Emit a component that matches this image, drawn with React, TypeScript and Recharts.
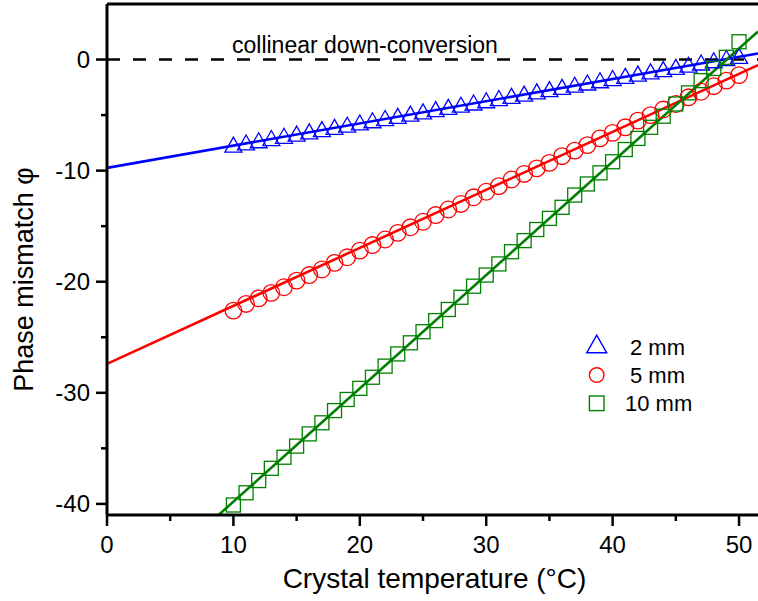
import React from 'react';
import { ComposedChart, XAxis, YAxis, Line, Scatter, ReferenceLine, Legend, Label } from 'recharts';

const temps = [10, 11, 12, 13, 14, 15, 16, 17, 18, 19, 20, 21, 22, 23, 24, 25, 26, 27, 28, 29, 30, 31, 32, 33, 34, 35, 36, 37, 38, 39, 40, 41, 42, 43, 44, 45, 46, 47, 48, 49, 50];
const phase2mm = [-7.8, -7.6, -7.4, -7.2, -7.0, -6.8, -6.6, -6.4, -6.2, -6.0, -5.8, -5.6, -5.4, -5.2, -5.0, -4.8, -4.6, -4.4, -4.2, -4.0, -3.8, -3.6, -3.4, -3.2, -3.0, -2.8, -2.6, -2.4, -2.2, -2.0, -1.8, -1.6, -1.4, -1.2, -1.0, -0.8, -0.6, -0.4, -0.2, 0.0, 0.2];
const phase5mm = [-22.6, -22.0, -21.5, -21.0, -20.5, -19.9, -19.4, -18.9, -18.3, -17.8, -17.2, -16.7, -16.2, -15.6, -15.1, -14.6, -14.0, -13.5, -13.0, -12.4, -11.9, -11.4, -10.8, -10.3, -9.8, -9.3, -8.7, -8.2, -7.7, -7.1, -6.6, -6.1, -5.5, -5.0, -4.5, -4.0, -3.4, -2.9, -2.4, -1.9, -1.4];
const phase10mm = [-40.1, -39.0, -37.9, -36.8, -35.8, -34.8, -33.7, -32.7, -31.6, -30.6, -29.6, -28.6, -27.6, -26.5, -25.5, -24.5, -23.5, -22.5, -21.4, -20.4, -19.4, -18.4, -17.3, -16.3, -15.3, -14.3, -13.3, -12.2, -11.2, -10.2, -9.2, -8.1, -7.1, -6.1, -5.1, -4.0, -3.0, -1.9, -0.8, 0.2, 1.6];

const fitX = [0, 51.5];
const fit2mm = [-9.75, 0.55];
const fit5mm = [-27.4, -0.5];
const fit10mm = [-50, 2.53];

const xTicks = [0, 5, 10, 15, 20, 25, 30, 35, 40, 45, 50];
const yTicks = [-40, -35, -30, -25, -20, -15, -10, -5, 0];

const seriesNames = ['2 mm', '5 mm', '10 mm'];
const seriesColors = ['#0000ff', '#ff0000', '#008000'];

const xTitle = 'Crystal temperature (\u00B0C)';
const yTitle = 'Phase mismatch \u03C6';
const refText = 'collinear down-conversion';

const FONT = '"Liberation Sans", Arial, Helvetica, sans-serif';

const toPts = (xs: number[], ys: number[]) => xs.map((x, i) => ({ x, y: ys[i] }));
const pts2 = toPts(temps, phase2mm);
const pts5 = toPts(temps, phase5mm);
const pts10 = toPts(temps, phase10mm);
const line2 = toPts(fitX, fit2mm);
const line5 = toPts(fitX, fit5mm);
const line10 = toPts(fitX, fit10mm);

const XTick = (props: any) => {
  const { x, y, payload } = props;
  const v = payload.value;
  const major = v % 10 === 0;
  return (
    <g>
      <line x1={x} x2={x} y1={y} y2={y + (major ? 11 : 6)} stroke="#000" strokeWidth={2.5} />
      {major && (
        <text x={x} y={y + 38} textAnchor="middle" fontSize={24} fontFamily={FONT} fill="#000">
          {v}
        </text>
      )}
    </g>
  );
};

const YTick = (props: any) => {
  const { x, y, payload } = props;
  const v = payload.value;
  const major = v % 10 === 0;
  return (
    <g>
      <line x1={x - (major ? 11 : 6)} x2={x} y1={y} y2={y} stroke="#000" strokeWidth={2.5} />
      {major && (
        <text x={x - 17} y={y + 8.5} textAnchor="end" fontSize={24} fontFamily={FONT} fill="#000">
          {v}
        </text>
      )}
    </g>
  );
};

const triShape = (color: string, w: number, h: number) => (props: any) => {
  const { cx, cy } = props;
  const pts = `${cx - w / 2},${cy + h * 0.4} ${cx + w / 2},${cy + h * 0.4} ${cx},${cy - h * 0.6}`;
  return <polygon points={pts} fill="none" stroke={color} strokeWidth={1.3} />;
};
const circShape = (color: string, r: number) => (props: any) => {
  const { cx, cy } = props;
  return <circle cx={cx} cy={cy} r={r} fill="none" stroke={color} strokeWidth={1.3} />;
};
const sqShape = (color: string, s: number) => (props: any) => {
  const { cx, cy } = props;
  return <rect x={cx - s / 2} y={cy - s / 2} width={s} height={s} fill="none" stroke={color} strokeWidth={1.3} />;
};

const renderLegend = () => {
  const rows = [
    { my: 11, ty: 22, tx: 45 },
    { my: 42, ty: 50.3, tx: 45 },
    { my: 70.3, ty: 77.7, tx: 40 },
  ];
  const mx = 11.7;
  return (
    <svg width={130} height={90} style={{ overflow: 'visible' }}>
      {rows.map((r, i) => {
        const c = seriesColors[i];
        let marker;
        if (i === 0) {
          marker = (
            <polygon
              points={`${mx - 10},${r.my + 8.8} ${mx + 10},${r.my + 8.8} ${mx},${r.my - 8.8}`}
              fill="none"
              stroke={c}
              strokeWidth={1.4}
            />
          );
        } else if (i === 1) {
          marker = <circle cx={mx} cy={r.my} r={7.3} fill="none" stroke={c} strokeWidth={1.4} />;
        } else {
          marker = <rect x={mx - 7.3} y={r.my - 7.3} width={14.6} height={14.6} fill="none" stroke={c} strokeWidth={1.4} />;
        }
        return (
          <g key={seriesNames[i]}>
            {marker}
            <text x={r.tx} y={r.ty} fontSize={22} fontFamily={FONT} fill="#000">
              {seriesNames[i]}
            </text>
          </g>
        );
      })}
    </svg>
  );
};

export default function App() {
  return (
    <div style={{ position: 'absolute', left: 0, top: 0, width: 758, height: 601 }}>
      <ComposedChart width={758} height={601} margin={{ top: 4, right: 0, bottom: 0, left: 0 }} style={{ fontFamily: FONT }}>
        <XAxis
          type="number"
          dataKey="x"
          domain={[0, 51.5]}
          allowDataOverflow
          ticks={xTicks}
          interval={0}
          tick={<XTick />}
          tickLine={false}
          tickSize={0}
          tickMargin={0}
          axisLine={{ stroke: '#000', strokeWidth: 3 }}
          height={86}
        >
          <Label
            content={(p: any) => {
              const vb = p.viewBox || { x: 107, y: 515, width: 651, height: 86 };
              return (
                <text x={vb.x + vb.width / 2 + 2} y={vb.y + 73} textAnchor="middle" fontSize={28} fontFamily={FONT} fill="#000">
                  {xTitle}
                </text>
              );
            }}
          />
        </XAxis>
        <YAxis
          type="number"
          dataKey="y"
          domain={[-41, 5]}
          allowDataOverflow
          ticks={yTicks}
          interval={0}
          tick={<YTick />}
          tickLine={false}
          tickSize={0}
          tickMargin={0}
          axisLine={{ stroke: '#000', strokeWidth: 3 }}
          width={107}
        >
          <Label
            content={(p: any) => {
              const vb = p.viewBox || { x: 0, y: 4, width: 107, height: 511 };
              const cx = vb.x + 33;
              const cy = vb.y + vb.height / 2 + 20;
              return (
                <text x={cx} y={cy} transform={`rotate(-90 ${cx} ${cy})`} textAnchor="middle" fontSize={27} fontFamily={FONT} fill="#000">
                  {yTitle}
                </text>
              );
            }}
          />
        </YAxis>
        <ReferenceLine y={5} stroke="#000" strokeWidth={3} />
        <ReferenceLine
          y={0}
          stroke="#000"
          strokeWidth={2.5}
          strokeDasharray="13 13"
          label={(p: any) => {
            const vb = p.viewBox || { x: 107, y: 59.5 };
            return (
              <text x={vb.x + 125} y={vb.y - 6.5} fontSize={23} fontFamily={FONT} fill="#000">
                {refText}
              </text>
            );
          }}
        />
        <Scatter name={seriesNames[0]} data={pts2} fill="none" shape={triShape(seriesColors[0], 17, 15)} isAnimationActive={false} />
        <Scatter name={seriesNames[1]} data={pts5} fill="none" shape={circShape(seriesColors[1], 8.3)} isAnimationActive={false} />
        <Scatter name={seriesNames[2]} data={pts10} fill="none" shape={sqShape(seriesColors[2], 14)} isAnimationActive={false} />
        <Line data={line2} dataKey="y" stroke={seriesColors[0]} strokeWidth={2.6} dot={false} activeDot={false} legendType="none" isAnimationActive={false} />
        <Line data={line5} dataKey="y" stroke={seriesColors[1]} strokeWidth={2.6} dot={false} activeDot={false} legendType="none" isAnimationActive={false} />
        <Line data={line10} dataKey="y" stroke={seriesColors[2]} strokeWidth={2.6} dot={false} activeDot={false} legendType="none" isAnimationActive={false} />
        <Legend
          layout="vertical"
          align="center"
          verticalAlign="middle"
          wrapperStyle={{ left: 585, top: 333, width: 130, height: 90 }}
          content={renderLegend}
        />
      </ComposedChart>
    </div>
  );
}
